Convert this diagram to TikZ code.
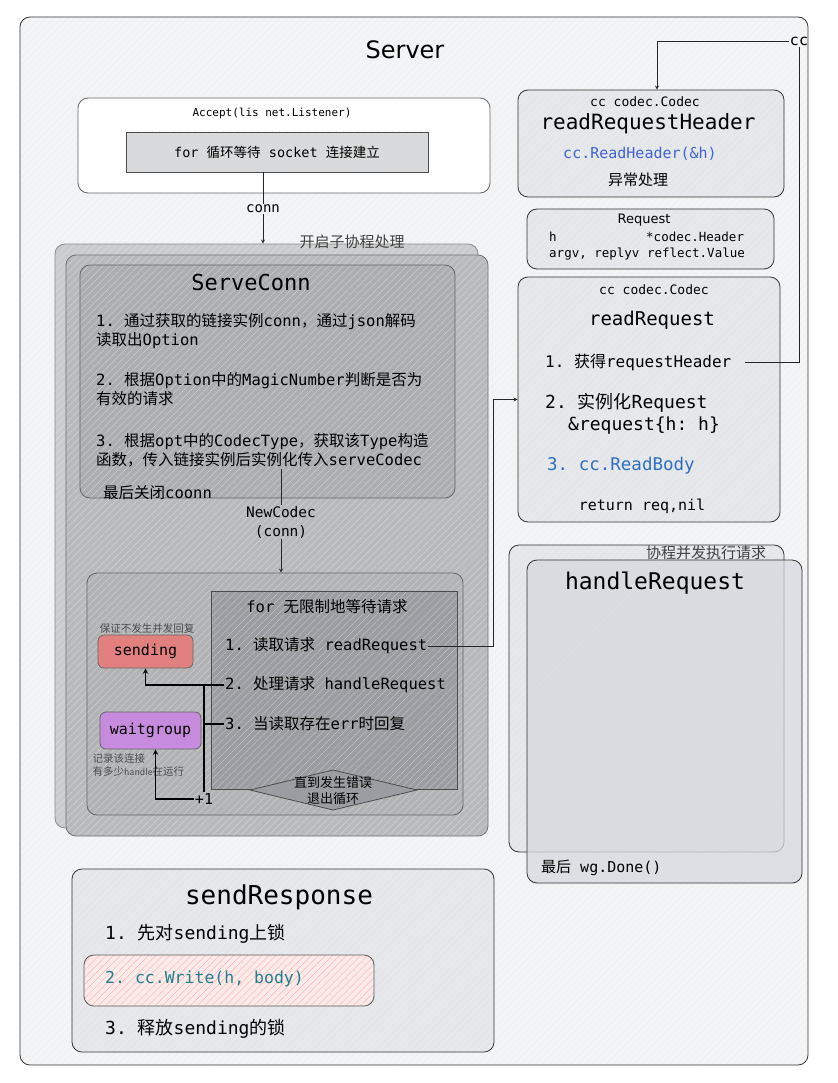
\documentclass[tikz,border=0pt]{standalone}
\usepackage{fontspec}
\setmainfont{DejaVu Sans}
\setmonofont{DejaVu Sans Mono}
\newfontfamily\cjk{Noto Sans CJK SC}
\newcommand{\zh}[1]{{\cjk #1}}
\usetikzlibrary{positioning,arrows.meta,patterns.meta}

\definecolor{serverbg}{HTML}{F3F4F5}
\definecolor{sockgray}{HTML}{D9DADB}
\definecolor{goback}{HTML}{CACBCD}
\definecolor{gofront}{HTML}{B7B9BB}
\definecolor{servegray}{HTML}{ABADB0}
\definecolor{wrapgray}{HTML}{B1B3B5}
\definecolor{loopgray}{HTML}{9A9DA1}
\definecolor{panel}{HTML}{E4E6E9}
\definecolor{hrgray}{HTML}{D5D9DE}
\definecolor{sendred}{HTML}{E28080}
\definecolor{wgpurple}{HTML}{C78BDD}
\definecolor{hdrblue}{HTML}{3F63D6}
\definecolor{bodyblue}{HTML}{2E6FC0}
\definecolor{writeteal}{HTML}{1F7F8C}
\definecolor{writepink}{HTML}{FBEAEA}

\begin{document}
\begin{tikzpicture}
        [x=1pt, y=-1pt,
        box/.style={draw=black!80, line width=0.8pt, rounded corners=10pt, inner sep=0pt},
        flat/.style={draw=black!70, line width=0.8pt, inner sep=0pt},
        hatch/.style 2 args={preaction={fill=#1}, pattern={Lines[angle=45,distance=5pt,line width=0.35pt]}, pattern color=#2},
        txt/.style 2 args={font=\ttfamily\fontsize{#1}{#2}\selectfont, inner sep=1pt},
        link/.style={line width=0.8pt, black!85},
        thicklink/.style={line width=1.4pt, black}]

        \useasboundingbox (0,0) rectangle (837,1083);

        % Server frame
        \node[box, hatch={serverbg}{black!7}, minimum width=788pt, minimum height=1048pt] (server) at (414,541) {};
        \node[font=\fontsize{24}{28}\selectfont] (title) at (405,50) {Server};

        % Accept loop
        \node[box, fill=white, draw=black!60, minimum width=412pt, minimum height=95pt] (accept) at (284,145.5) {};
        \node[txt={11}{13}] (acc) at (272,113) {Accept(lis net.Listener)};
        \node[flat, hatch={sockgray}{black!14}, minimum width=302pt, minimum height=40pt, txt={13.5}{16}] (sock) at (277,152) {for \zh{循环等待} socket \zh{连接建立}};
        \node[txt={14}{16}] (conn) at (263,209) {conn};

        % goroutine stack
        \node[box, hatch={goback}{black!12}, draw=black!45, minimum width=423pt, minimum height=584pt] (go1) at (266.5,536) {};
        \node[box, hatch={gofront}{black!14}, draw=black!55, minimum width=422pt, minimum height=581pt] (go2) at (277,545.5) {};
        \node[font=\cjk\fontsize{15}{18}\selectfont, text=black!75] (spawn) at (352,242) {开启子协程处理};

        % ServeConn
        \node[box, hatch={servegray}{black!16}, draw=black!60, minimum width=375pt, minimum height=233pt] (serve) at (267.5,381.5) {};
        \node[txt={22}{24}] (servename) at (251,282) {ServeConn};
        \node[txt={15.5}{19}, anchor=west, align=left] (s1) at (95,331.5) {1. \zh{通过获取的链接实例}conn\zh{，通过}json\zh{解码}\\\zh{读取出}Option};
        \node[txt={15.5}{19}, anchor=west, align=left] (s2) at (95,389.5) {2. \zh{根据}Option\zh{中的}MagicNumber\zh{判断是否为}\\\zh{有效的请求}};
        \node[txt={15.5}{19}, anchor=west, align=left] (s3) at (95,450.5) {3. \zh{根据}opt\zh{中的}CodecType\zh{，获取该}Type\zh{构造}\\\zh{函数，传入链接实例后实例化传入}serveCodec};
        \node[txt={15.5}{18}, anchor=west] (close) at (102,493) {\zh{最后关闭}coonn};
        \node[txt={14.5}{19}, align=center] (codec) at (281,522) {NewCodec\\(conn)};

        % request loop
        \node[box, hatch={wrapgray}{black!16}, draw=black!60, minimum width=376pt, minimum height=242pt] (wrap) at (275,694) {};
        \node[flat, hatch={loopgray}{black!20}, minimum width=246pt, minimum height=198pt] (loop) at (334,690) {};
        \node[txt={15.5}{18}] (looptitle) at (327,607) {for \zh{无限制地等待请求}};
        \node[txt={15.5}{18}, anchor=west] (lrd) at (224,646) {1. \zh{读取请求} readRequest};
        \node[txt={15.5}{18}, anchor=west] (lhr) at (224,685) {2. \zh{处理请求} handleRequest};
        \node[txt={15.5}{18}, anchor=west] (lerr) at (224,724) {3. \zh{当读取存在}err\zh{时回复}};
        \draw[flat, fill=loopgray] (250,790) -- (333,770) -- (417,790) -- (333,810) -- cycle;
        \node[font=\cjk\fontsize{13}{16}\selectfont, align=center] (stop) at (333,791) {直到发生错误\\退出循环};

        % sending and waitgroup
        \node[box, rounded corners=6pt, fill=sendred, draw=black!60, minimum width=95pt, minimum height=33pt, txt={15}{18}] (sending) at (145.5,651.5) {sending};
        \node[font=\cjk\fontsize{10.5}{12}\selectfont, text=black!70] (lock) at (147,629) {保证不发生并发回复};
        \node[box, rounded corners=6pt, fill=wgpurple, draw=black!60, minimum width=101pt, minimum height=37pt, txt={15}{18}] (wg) at (150.5,730.5) {waitgroup};
        \node[font=\cjk\fontsize{10.5}{13}\selectfont, text=black!70, align=left, anchor=north west] (wgnote) at (89,750) {记录该连接\\有多少{\sffamily handle}在运行};
        \node[txt={15}{18}] (plus) at (204,799) {+1};

        % readRequestHeader
        \node[box, hatch={panel}{black!6}, minimum width=266pt, minimum height=107pt] (rrh) at (651,143.5) {};
        \node[txt={13}{15}] (rrhtype) at (645,102) {cc codec.Codec};
        \node[txt={21}{24}] (rrhname) at (648,124) {readRequestHeader};
        \node[txt={15}{18}, text=hdrblue] (rrhcall) at (640,154) {cc.ReadHeader(\&h)};
        \node[font=\cjk\fontsize{15}{18}\selectfont] (rrherr) at (638,180) {异常处理};
        \node[txt={15}{18}] (cc) at (799,41) {cc};

        % Request struct
        \node[box, hatch={panel}{black!6}, minimum width=247pt, minimum height=60pt] (req) at (650.5,239) {};
        \node[font=\fontsize{13}{15}\selectfont] (reqname) at (644,220) {Request};
        \node[txt={12.5}{15}, anchor=west] (reqh) at (548,237) {h};
        \node[txt={12.5}{15}, anchor=west] (reqht) at (645,237) {*codec.Header};
        \node[txt={12.5}{15}, anchor=west] (reqargs) at (548,254) {argv, replyv reflect.Value};

        % readRequest
        \node[box, hatch={panel}{black!6}, minimum width=262pt, minimum height=245pt] (rr) at (649,399.5) {};
        \node[txt={13}{15}] (rrtype) at (654,290) {cc codec.Codec};
        \node[txt={19}{22}] (rrname) at (652,320) {readRequest};
        \node[txt={16}{19}, anchor=west] (rr1) at (544,362) {1. \zh{获得}requestHeader};
        \node[txt={18}{21}, anchor=west] (rr2) at (544,403) {2. \zh{实例化}Request};
        \node[txt={18}{21}, anchor=west] (rr2b) at (567,426) {\&request\{h: h\}};
        \node[txt={17.5}{20}, anchor=west, text=bodyblue] (rr3) at (546,466) {3. cc.ReadBody};
        \node[txt={15}{18}] (rrret) at (642,506) {return req,nil};

        % handleRequest
        \node[box, hatch={panel}{black!6}, minimum width=275pt, minimum height=307pt] (hrback) at (646.5,698.5) {};
        \node[box, fill=hrgray, fill opacity=0.75, minimum width=275pt, minimum height=323pt] (hr) at (664.5,721.5) {};
        \node[font=\cjk\fontsize{15}{18}\selectfont, text=black!75] (spawn2) at (706,553) {协程并发执行请求};
        \node[txt={23}{26}] (hrname) at (655,583) {handleRequest};
        \node[txt={15}{18}, anchor=west] (hrdone) at (540,868) {\zh{最后} wg.Done()};

        % sendResponse
        \node[box, hatch={panel}{black!6}, minimum width=422pt, minimum height=183pt] (send) at (283,960.5) {};
        \node[txt={26}{30}] (sendname) at (279,897) {sendResponse};
        \node[txt={18}{21}, anchor=west] (send1) at (104,934) {1. \zh{先对}sending\zh{上锁}};
        \node[box, hatch={writepink}{red!35}, draw=black!65, minimum width=290pt, minimum height=51pt] (write) at (229,980.5) {};
        \node[txt={16.5}{19}, anchor=west, text=writeteal] (send2) at (104,979) {2. cc.Write(h, body)};
        \node[txt={18}{21}, anchor=west] (send3) at (104,1029) {3. \zh{释放}sending\zh{的锁}};

        % connectors
        \draw[link] (sock.south -| conn.north) -- (conn.north);
        \draw[link, -stealth] (conn.south) -- (conn.south |- go1.north);
        \draw[link] (codec.north |- s3.south) -- (codec.north);
        \draw[link, -stealth] (codec.south) -- (codec.south |- wrap.north);
        \draw[link, -stealth] (lrd.east) -| ([xshift=-24pt]rr.west) -- (rr.west);
        \draw[thicklink, -stealth] (lhr.west) -| (sending.south);
        \draw[thicklink] (plus.north |- lhr.west) -- (plus.north);
        \draw[thicklink] (plus.north |- lerr.west) -- (lerr.west);
        \draw[thicklink, -stealth] (plus.west) -| ([xshift=5pt]wg.south);
        \draw[link, -stealth] (cc.west) -| ([xshift=6pt]rrh.north);
        \draw[link] (cc.south) |- ([xshift=12pt]rr1.east);

    \end{tikzpicture}
\end{document}
